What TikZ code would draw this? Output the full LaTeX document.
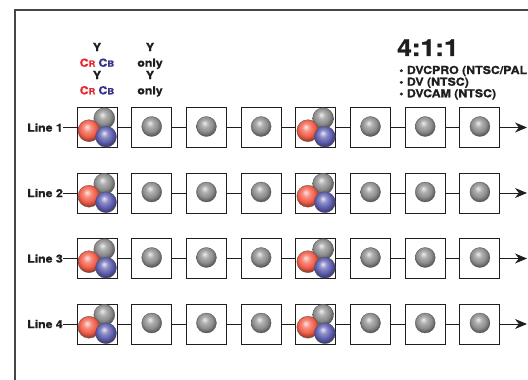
\documentclass[tikz,border=0pt]{standalone}
\usepackage{fontspec}
\setmainfont{TeX Gyre Heros}[FakeStretch=1.12, BoldFeatures={FakeBold=1.2}]
\usetikzlibrary{arrows.meta}

\definecolor{framegray}{RGB}{70,70,70}
\definecolor{ink}{RGB}{30,30,30}
\definecolor{crred}{RGB}{232,38,48}
\definecolor{cbblue}{RGB}{52,52,140}
\definecolor{ballred}{RGB}{242,92,72}
\definecolor{ballblue}{RGB}{92,92,175}
\definecolor{ballgray}{RGB}{140,140,140}
\colorlet{sphcol}{ballgray}

% soft sphere, lighter rim than the ball shading
\pgfdeclareradialshading[sphcol]{sphere}{\pgfqpoint{-5bp}{9bp}}{%
  color(0bp)=(sphcol!15!white); color(9bp)=(sphcol!70!white);
  color(19bp)=(sphcol); color(29bp)=(sphcol!55!black);
  color(38bp)=(sphcol!35!black); color(50bp)=(sphcol!35!black)}

\newcommand{\crcb}{\textcolor{crred}{C{\fontsize{8.5}{8.5}\selectfont R}}\hspace{3pt}\textcolor{cbblue}{C{\fontsize{8.5}{8.5}\selectfont B}}}

\begin{document}
\begin{tikzpicture}[x=1pt,y=-1pt,
  sample/.style={draw=ink, line width=1pt, minimum size=40pt, inner sep=0pt},
  lbl/.style={font=\bfseries\fontsize{11}{13}\selectfont, text=ink, inner sep=0pt},
  wire/.style={draw=ink, line width=.9pt},
  sph/.style={/utils/exec={\colorlet{sphcol}{#1}}, shading=sphere, draw=black!65, line width=.3pt},
  ycc/.pic={
    \shadedraw[sph=ballgray] (7.3,-9.2) circle (10.5pt);
    \shadedraw[sph=ballred] (-8,3.2) circle (11pt);
    \shadedraw[sph=ballblue] (9,9.2) circle (10.5pt);
  },
  yonly/.pic={\shadedraw[sph=ballgray] (0,-1) circle (10pt);}
]
	\useasboundingbox (0,0) rectangle (528,380);
	\clip (0,0) rectangle (528,380);
	
	% frame
	\draw[framegray, line width=1.5pt] (15,10) rectangle (560,400);
	
	% column heads
	\node[lbl, anchor=base] (ya) at (97,51) {Y};
	\node[lbl, anchor=base] (ca) at (97,66.7) {\crcb};
	\node[lbl, anchor=base] (yb) at (97,79) {Y};
	\node[lbl, anchor=base] (cb) at (97,94.3) {\crcb};
	\node[lbl, anchor=base] (yc) at (150,51) {Y};
	\node[lbl, anchor=base] (oa) at (150,66.7) {only};
	\node[lbl, anchor=base] (yd) at (150,79) {Y};
	\node[lbl, anchor=base] (ob) at (150,94.3) {only};
	
	% format
	\node[anchor=base west, inner sep=0pt, text=ink, font=\bfseries\fontsize{23.5}{24}\selectfont] (ratio) at (397,56) {4:1:1};
	\node[lbl, anchor=base west] (fmta) at (399,74) {• DVCPRO (NTSC/PAL};
	\node[lbl, anchor=base west] (fmtb) at (399,85.7) {• DV (NTSC)};
	\node[lbl, anchor=base west] (fmtc) at (399,97.3) {• DVCAM (NTSC)};
	
	% lines of samples
	\foreach \r/\ry in {1/127.5,2/193,3/258.5,4/324}{
		\node[lbl, anchor=east] (line\r) at (63,\ry) {Line \r};
		\foreach \c in {1,...,8}
			\node[sample] (s\r-\c) at ({97+(\c-1)*54.7},\ry) {};
		\draw[wire] (line\r) -- (s\r-1);
		\foreach \c [evaluate=\c as \n using int(\c+1)] in {1,...,7}
			\draw[wire] (s\r-\c) -- (s\r-\n);
		\coordinate (end\r) at (527,\ry);
		\draw[wire, -{Stealth[length=12pt,width=10pt]}] (s\r-8) -- (end\r);
		\foreach \c in {1,5}
			\pic at (s\r-\c) {ycc};
		\foreach \c in {2,3,4,6,7,8}
			\pic at (s\r-\c) {yonly};
	}
\end{tikzpicture}
\end{document}
